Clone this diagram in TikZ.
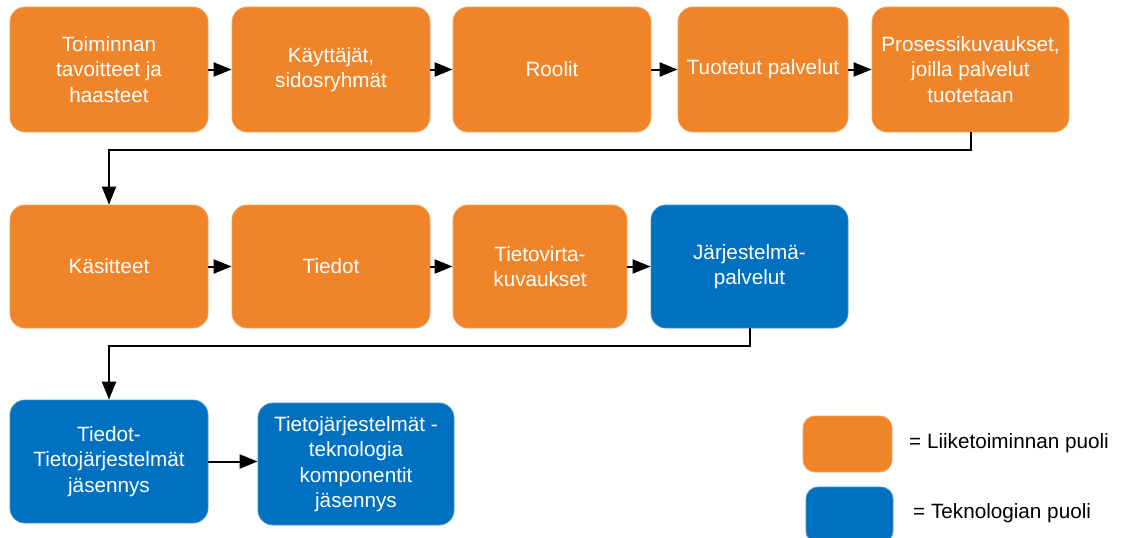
\documentclass[tikz,border=0pt]{standalone}
\usepackage{fontspec}
\setmainfont{Liberation Sans}
\usetikzlibrary{arrows.meta}
\definecolor{bizorange}{RGB}{240,132,41}
\definecolor{techblue}{RGB}{0,113,193}
\begin{document}
\begin{tikzpicture}[x=1pt,y=-1pt,
  box/.style={rectangle, rounded corners=15pt, inner sep=2pt, align=center,
    text=white, font=\fontsize{20.7}{25.5}\selectfont, line width=0.8pt},
  biz/.style={box, fill=bizorange, draw=bizorange!75!white},
  tech/.style={box, fill=techblue, draw=techblue!75!white},
  flow/.style={line width=2pt, -{Triangle[length=18pt,width=14pt]}},
  legendtext/.style={anchor=west, inner sep=0pt, font=\fontsize{20.7}{24}\selectfont}
]
\useasboundingbox (0,0) rectangle (1122,538);

% first row
\node[biz, minimum width=198pt, minimum height=125pt] (b1) at (109,69.5) {Toiminnan\\tavoitteet ja\\haasteet};
\node[biz, minimum width=198pt, minimum height=125pt] (b2) at (331,69.5) {Käyttäjät,\\sidosryhmät};
\node[biz, minimum width=198pt, minimum height=125pt] (b3) at (552,69.5) {Roolit};
\node[biz, minimum width=170pt, minimum height=125pt] (b4) at (763,69.5) {Tuotetut palvelut};
\node[biz, minimum width=197pt, minimum height=125pt] (b5) at (970.5,69.5) {Prosessikuvaukset,\\joilla palvelut\\tuotetaan};

% second row
\node[biz, minimum width=198pt, minimum height=123pt] (c1) at (109,266.5) {Käsitteet};
\node[biz, minimum width=198pt, minimum height=123pt] (c2) at (331,266.5) {Tiedot};
\node[biz, minimum width=174pt, minimum height=123pt] (c3) at (540,266.5) {Tietovirta-\\kuvaukset};
\node[tech, minimum width=197pt, minimum height=123pt] (c4) at (749.5,266.5) {Järjestelmä-\\palvelut};

% third row
\node[tech, minimum width=198pt, minimum height=123pt] (d1) at (109,461.5) {Tiedot-\\Tietojärjestelmät\\jäsennys};
\node[tech, minimum width=196pt, minimum height=122pt] (d2) at (356,464) {Tietojärjestelmät -\\teknologia\\komponentit\\jäsennys};

% legend
\node[biz, rounded corners=12pt, minimum width=89pt, minimum height=56pt] (lb) at (847.5,444) {};
\node[tech, rounded corners=12pt, minimum width=87pt, minimum height=56pt] (lt) at (849.5,515) {};
\node[legendtext] (lbt) at (909,443) {= Liiketoiminnan puoli};
\node[legendtext] (ltt) at (913,513) {= Teknologian puoli};

% connectors
\draw[flow] (b1.east) -- (b2.west);
\draw[flow] (b2.east) -- (b3.west);
\draw[flow] (b3.east) -- (b4.west);
\draw[flow] (b4.east) -- (b5.west);
\draw[flow] (b5.south) -- ++(0,18) -| (c1.north);
\draw[flow] (c1.east) -- (c2.west);
\draw[flow] (c2.east) -- (c3.west);
\draw[flow] (c3.east) -- (c4.west);
\draw[flow] (c4.south) -- ++(0,18) -| (d1.north);
\draw[flow] (d1.east) -- (d1.east -| d2.west);
\end{tikzpicture}
\end{document}
